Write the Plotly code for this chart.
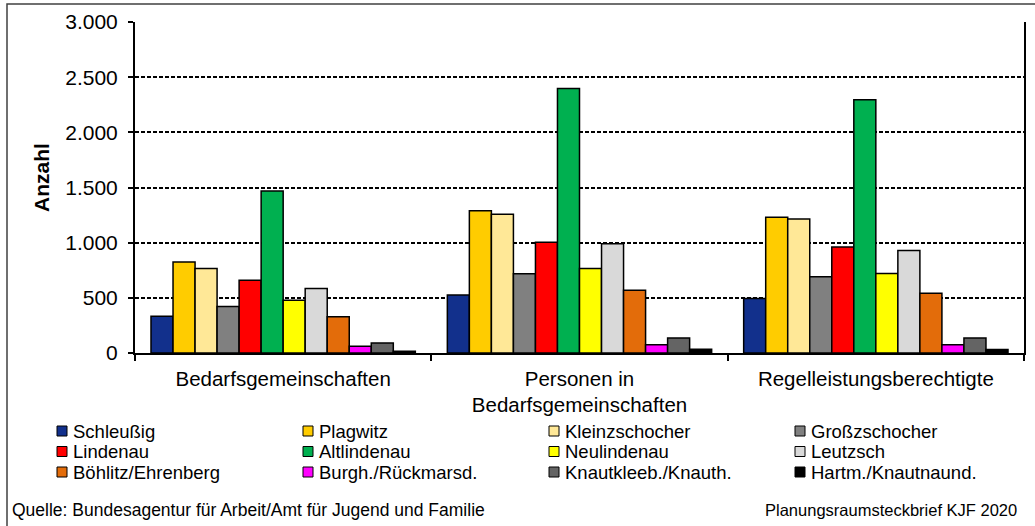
import plotly.graph_objects as go

# categories (x axis) and districts (series)
categories = ["Bedarfsgemeinschaften", "Personen in<br>Bedarfsgemeinschaften", "Regelleistungsberechtigte"]
districts = ["Schleußig", "Plagwitz", "Kleinzschocher", "Großzschocher",
             "Lindenau", "Altlindenau", "Neulindenau", "Leutzsch",
             "Böhlitz/Ehrenberg", "Burgh./Rückmarsd.", "Knautkleeb./Knauth.", "Hartm./Knautnaund."]
colors = ["#12308C", "#FFCC00", "#FFE897", "#808080",
          "#FF0000", "#00B050", "#FFFF00", "#D9D9D9",
          "#E36C0A", "#FF00FF", "#646464", "#000000"]

schleussig = [333, 525, 494]
plagwitz = [824, 1290, 1230]
kleinzschocher = [766, 1257, 1214]
grosszschocher = [421, 718, 690]
lindenau = [660, 1003, 960]
altlindenau = [1469, 2398, 2295]
neulindenau = [479, 766, 720]
leutzsch = [585, 990, 928]
boehlitz = [328, 569, 541]
burghausen = [61, 74, 74]
knautkleeberg = [91, 136, 136]
hartmannsdorf = [16, 33, 31]

values = [schleussig, plagwitz, kleinzschocher, grosszschocher,
          lindenau, altlindenau, neulindenau, leutzsch,
          boehlitz, burghausen, knautkleeberg, hartmannsdorf]

W, H = 1035, 526
L, R, T, B = 135, 11, 22, 173
FONT = "Liberation Sans, Arial, sans-serif"


def px_x(px):
    return (px - L) / (W - L - R)


def px_y(py):
    return (H - B - py) / (H - T - B)


fig = go.Figure()
for name, col, vals in zip(districts, colors, values):
    fig.add_trace(go.Bar(
        name=name, x=categories, y=vals,
        marker=dict(color=col, line=dict(color="black", width=1.5)),
    ))

# hand-built legend (4 columns x 3 rows, tight rows like the original)
shapes = []
annotations = []
for i, (name, col) in enumerate(zip(districts, colors)):
    c, r = i % 4, i // 4
    x0 = 57 + c * 246
    yc = 431 + r * 20.5
    shapes.append(dict(type="rect", xref="paper", yref="paper",
                       x0=px_x(x0), x1=px_x(x0 + 10), y0=px_y(yc + 5), y1=px_y(yc - 5),
                       fillcolor=col, line=dict(color="black", width=1)))
    annotations.append(dict(text=name, xref="paper", yref="paper", x=px_x(x0 + 14), y=px_y(yc),
                            xanchor="left", yanchor="middle", showarrow=False,
                            font=dict(size=18.5, color="black")))

# outer frame
shapes.append(dict(type="rect", xref="paper", yref="paper",
                   x0=px_x(7), x1=px_x(1045), y0=px_y(540), y1=px_y(4),
                   line=dict(color="#404040", width=1.5), fillcolor="rgba(0,0,0,0)", layer="below"))

annotations.append(dict(text="Quelle: Bundesagentur für Arbeit/Amt für Jugend und Familie",
                        xref="paper", yref="paper", x=px_x(10), y=px_y(510),
                        xanchor="left", yanchor="middle", showarrow=False,
                        font=dict(size=17.5, color="black")))
annotations.append(dict(text="Planungsraumsteckbrief KJF 2020",
                        xref="paper", yref="paper", x=px_x(1019), y=px_y(510),
                        xanchor="right", yanchor="middle", showarrow=False,
                        font=dict(size=16.5, color="black")))
annotations.append(dict(text="<b>Anzahl</b>", xref="paper", yref="paper", x=px_x(41), y=px_y(178),
                        xanchor="center", yanchor="middle", textangle=-90, showarrow=False,
                        font=dict(size=21, color="black")))

fig.update_layout(
    width=W, height=H,
    margin=dict(l=L, r=R, t=T, b=B, autoexpand=False),
    barmode="group", bargap=0.108, bargroupgap=0,
    showlegend=False,
    separators=",.",
    font=dict(family=FONT, size=21, color="black"),
    paper_bgcolor="white", plot_bgcolor="white",
    shapes=shapes, annotations=annotations,
    xaxis=dict(showline=True, linecolor="black", linewidth=2,
               ticks="outside", tickson="boundaries", ticklen=6, tickcolor="black", tickwidth=1.5,
               ticklabelstandoff=6,
               tickfont=dict(size=20.5), showgrid=False),
    yaxis=dict(range=[0, 3000], dtick=500, tickformat=",d",
               showline=True, mirror=True, linecolor="black", linewidth=2,
               ticks="outside", ticklen=5, tickcolor="black", tickwidth=1.5,
               ticklabelstandoff=6,
               showgrid=True, gridcolor="black", gridwidth=1.5, griddash="4px,2px",
               zeroline=False, tickfont=dict(size=21)),
)

fig.write_html("out.html", config={"displayModeBar": False},
               post_script="document.body.style.margin='0';")
